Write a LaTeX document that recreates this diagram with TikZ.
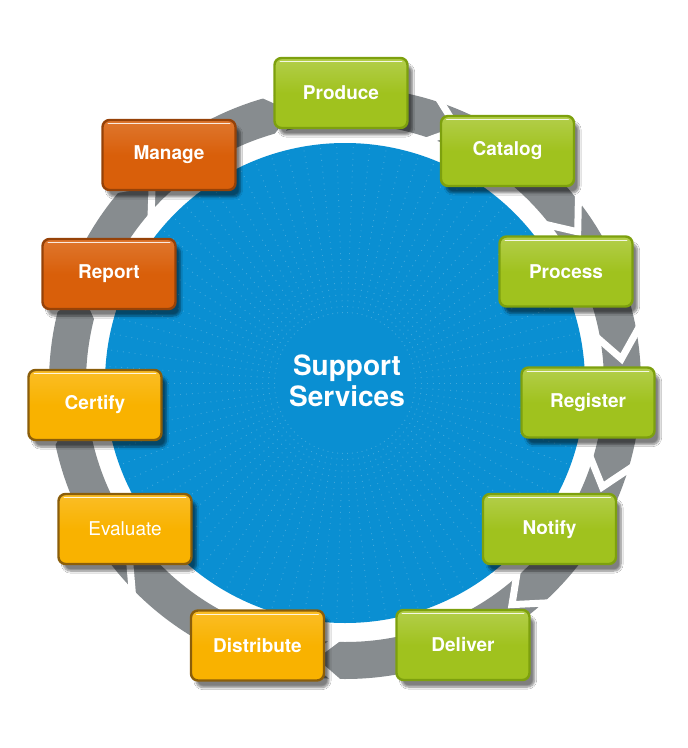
\documentclass[tikz,border=0pt]{standalone}
\usepackage{fontspec}
\setmainfont{TeX Gyre Heros}
\usetikzlibrary{shadows.blur}
\definecolor{ringgray}{RGB}{135,140,143}
\definecolor{discblue}{RGB}{10,143,210}
\definecolor{leaf}{RGB}{160,194,30}
\definecolor{leafline}{RGB}{125,160,14}
\definecolor{rust}{RGB}{217,95,10}
\definecolor{rustline}{RGB}{150,66,8}
\definecolor{amber}{RGB}{249,178,0}
\definecolor{amberline}{RGB}{139,94,10}
\tikzset{
  stage/.style={rounded corners=7pt, line width=2.4pt, minimum width=133pt, minimum height=70pt,
    text=white, font=\fontsize{19}{22}\selectfont\bfseries,
    blur shadow={shadow xshift=5pt, shadow yshift=-7pt, shadow opacity=50, shadow blur steps=8}},
  stagegreen/.style={stage, draw=leafline, top color=leaf!80!white, bottom color=leaf, middle color=leaf},
  stagerust/.style={stage, draw=rustline, top color=rust!85!white, bottom color=rust, middle color=rust},
  stageamber/.style={stage, draw=amberline, top color=amber!85!white, bottom color=amber, middle color=amber}
}
\begin{document}
\begin{tikzpicture}[x=1pt,y=1pt]
  \useasboundingbox[fill=white] (-345,-365) rectangle (343,383);

  % ring and disc
  \fill[ringgray, even odd rule] (0,0) circle (296pt) (0,0) circle (259pt);
  \fill[discblue] (0,0) circle (240pt);
  \foreach \a in {0,4,...,356}
    \draw[white, opacity=.22, line width=0.9pt, dash pattern=on 0.9pt off 5pt] (\a:70) -- (\a:236);

  % chevron cuts, clockwise
  \foreach \a in {107,141,167,193,226,270,314,345,372,400,433}
    \draw[white, line width=7pt] (\a:250) -- ({\a-7}:277.5) -- (\a:305);

  \node[text=white, font=\fontsize{28}{31}\selectfont\bfseries, align=center] (hub) at (2,2) {Support\\Services};

  % stages
  \node[stagegreen] (produce) at (-4,290) {Produce};
  \node[stagegreen] (catalog) at (162.5,232) {Catalog};
  \node[stagegreen] (process) at (221,111.5) {Process};
  \node[stagegreen] (register) at (243,-19.5) {Register};
  \node[stagegreen] (notify) at (204.5,-146) {Notify};
  \node[stagegreen] (deliver) at (118,-262) {Deliver};
  \node[stageamber] (distribute) at (-87.5,-262.5) {Distribute};
  \node[stageamber, font=\fontsize{19}{22}\selectfont] (evaluate) at (-220,-146) {Evaluate};
  \node[stageamber] (certify) at (-250,-22) {Certify};
  \node[stagerust] (report) at (-236,109) {Report};
  \node[stagerust] (manage) at (-176,228) {Manage};

  % gloss
  \foreach \n in {produce,catalog,process,register,notify,deliver,distribute,evaluate,certify,report,manage}
    \draw[white, opacity=.85, line width=1.3pt, line cap=round]
      ([xshift=7,yshift=-5]\n.north west) -- ([xshift=-7,yshift=-5]\n.north east);
\end{tikzpicture}
\end{document}
